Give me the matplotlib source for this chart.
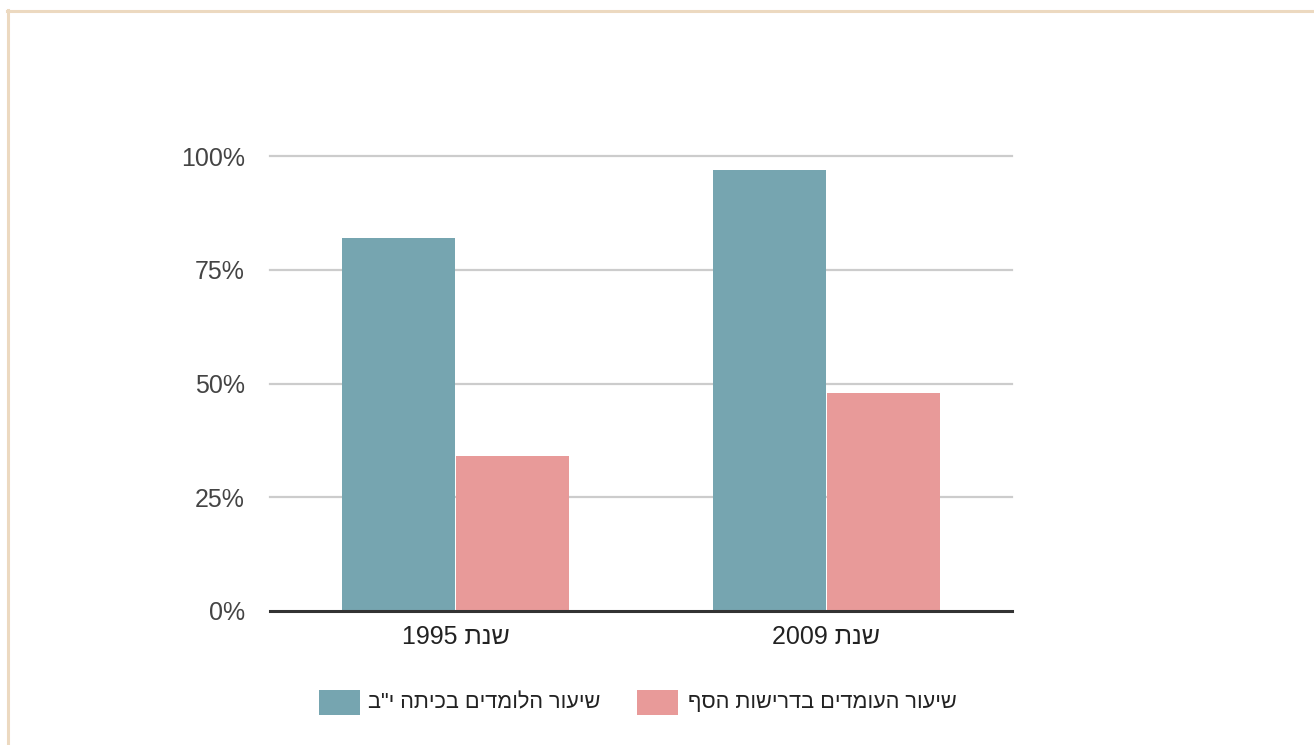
import matplotlib.pyplot as plt
import numpy as np
from matplotlib.lines import Line2D
from matplotlib.patches import Rectangle

plt.rcParams["font.family"] = ["Liberation Sans", "DejaVu Sans"]

# --- data ---
YEARS = [1995, 2009]
YEAR_WORD = "שנת"
SERIES = ["שיעור הלומדים בכיתה י\"ב", "שיעור העומדים בדרישות הסף"]
GRADE12 = [82, 97]      # teal
THRESHOLD = [34, 48]    # pink
COLORS = ["#76a5b0", "#e89a99"]
YTICKS = [0, 25, 50, 75, 100]


def rtl(s):
    # matplotlib has no bidi support: flip Hebrew to visual order
    return s[::-1]


fig = plt.figure(figsize=(13.14, 7.45), dpi=100)
ax = fig.add_axes([270 / 1314, 1 - 611 / 745, 742 / 1314, 455 / 745])

x = np.arange(len(YEARS))
w = 0.305
ax.bar(x - w / 2 - 0.0015, GRADE12, w, color=COLORS[0], linewidth=0, zorder=3)
ax.bar(x + w / 2 + 0.0015, THRESHOLD, w, color=COLORS[1], linewidth=0, zorder=3)

ax.set_xlim(-0.5, 1.5)
ax.set_ylim(0, 100)
ax.set_yticks(YTICKS)
ax.set_yticklabels([f"{t}%" for t in YTICKS])
ax.set_xticks(x)
ax.set_xticklabels([f"{y} {rtl(YEAR_WORD)}" for y in YEARS])
for t in YTICKS[1:]:
    ax.axhline(t, color="#cccccc", lw=1.6, zorder=1, clip_on=False)
ax.axhline(0, color="#333333", lw=2.2, zorder=4, clip_on=False)
for s in ax.spines.values():
    s.set_visible(False)
ax.tick_params(axis="both", length=0, labelsize=18, colors="#444444")
ax.tick_params(axis="y", pad=18)
ax.tick_params(axis="x", pad=10)
for lab in ax.get_xticklabels():
    lab.set_color("#222222")

# legend drawn by hand, box left of each label
box_x = [319, 637]
txt_x = [368, 688]
for i, name in enumerate(SERIES):
    fig.add_artist(Rectangle((box_x[i] / 1314, 1 - 715 / 745), 41 / 1314, 25 / 745,
                             transform=fig.transFigure, color=COLORS[i], lw=0))
    fig.text(txt_x[i] / 1314, 1 - 703 / 745, rtl(name), fontsize=15.7,
             color="#222222", ha="left", va="center")

# beige frame (top and left edges)
fig.add_artist(Line2D([7 / 1314, 1], [1 - 11 / 745, 1 - 11 / 745],
                      transform=fig.transFigure, color="#ecd9c0", lw=2.2))
fig.add_artist(Line2D([8 / 1314, 8 / 1314], [0, 1 - 10 / 745],
                      transform=fig.transFigure, color="#ecd9c0", lw=2.2))

fig.savefig("out.png", dpi=100)
